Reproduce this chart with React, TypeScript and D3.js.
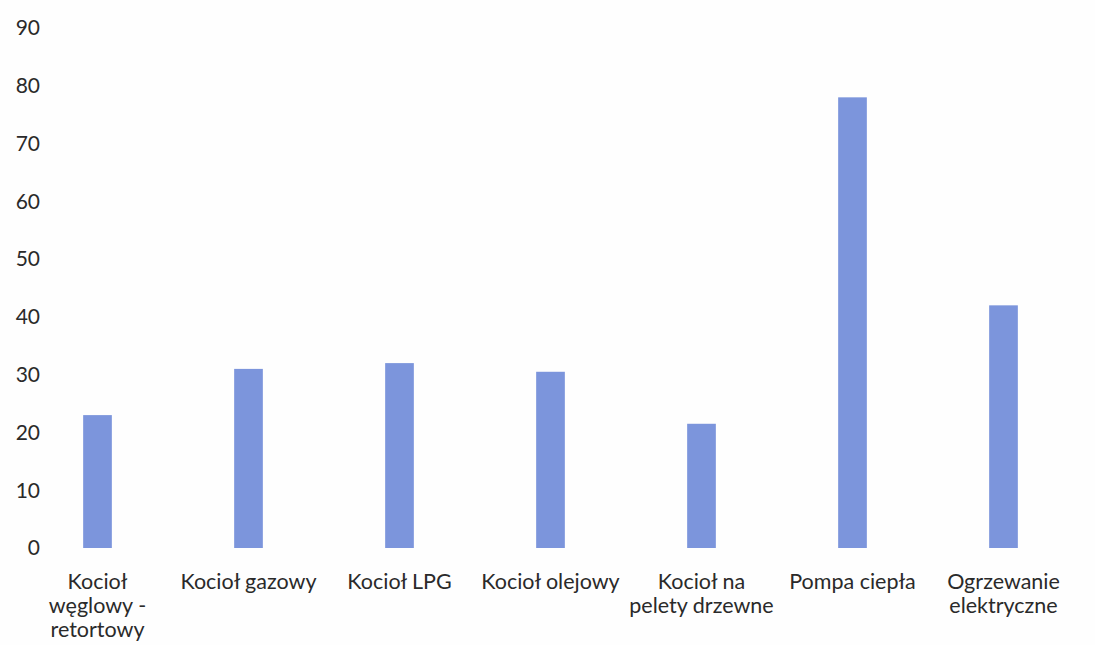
import { useEffect, useRef } from 'react';
import * as d3 from 'd3';

const CATEGORIES: string[][] = [
  ['Kocioł', 'węglowy -', 'retortowy'],
  ['Kocioł gazowy'],
  ['Kocioł LPG'],
  ['Kocioł olejowy'],
  ['Kocioł na', 'pelety drzewne'],
  ['Pompa ciepła'],
  ['Ogrzewanie', 'elektryczne'],
];
const VALUES: number[] = [23, 31, 32, 30.5, 21.5, 78, 42];
const Y_TICKS: number[] = [0, 10, 20, 30, 40, 50, 60, 70, 80, 90];

export default function App() {
  const svgRef = useRef<SVGSVGElement>(null);

  useEffect(() => {
    const el = svgRef.current;
    if (!el) return;
    const svg = d3.select(el);
    svg.selectAll('*').remove();

    const W = 1095;
    const H = 645;
    const font = "Lato, 'Open Sans', sans-serif";

    svg.append('rect').attr('width', W).attr('height', H).attr('fill', '#fefefe');

    const idx = CATEGORIES.map((_, i) => i);
    const x = d3.scaleBand<number>().domain(idx).range([22, 1079]).paddingInner(0.81).paddingOuter(0.405);
    const y = d3.scaleLinear().domain([0, 90]).range([548, 28]);

    // Y tick labels (no axis line, no gridlines)
    svg.append('g').selectAll('text').data(Y_TICKS).join('text')
      .attr('x', 40).attr('y', (d) => y(d))
      .attr('dy', '0.35em')
      .attr('text-anchor', 'end')
      .attr('font-family', font).attr('font-size', '21px').attr('fill', '#2a2a2a')
      .text((d) => String(d));

    // Bars
    svg.append('g').selectAll('rect').data(VALUES).join('rect')
      .attr('x', (_, i) => x(i)!)
      .attr('width', x.bandwidth())
      .attr('y', (d) => y(d))
      .attr('height', (d) => y(0) - y(d))
      .attr('fill', '#7c95dc');

    // Category labels
    const labels = svg.append('g').selectAll('text').data(CATEGORIES).join('text')
      .attr('x', (_, i) => x(i)! + x.bandwidth() / 2)
      .attr('y', 589)
      .attr('text-anchor', 'middle')
      .attr('font-family', font).attr('font-size', '21.5px').attr('fill', '#2a2a2a');
    labels.each(function (lines) {
      const t = d3.select(this);
      const cx = t.attr('x');
      lines.forEach((line, j) => {
        t.append('tspan').attr('x', cx).attr('dy', j === 0 ? 0 : 24).text(line);
      });
    });
  }, []);

  return (
    <svg
      ref={svgRef}
      width={1095}
      height={645}
      style={{ position: 'absolute', left: 0, top: 0, display: 'block' }}
    />
  );
}
